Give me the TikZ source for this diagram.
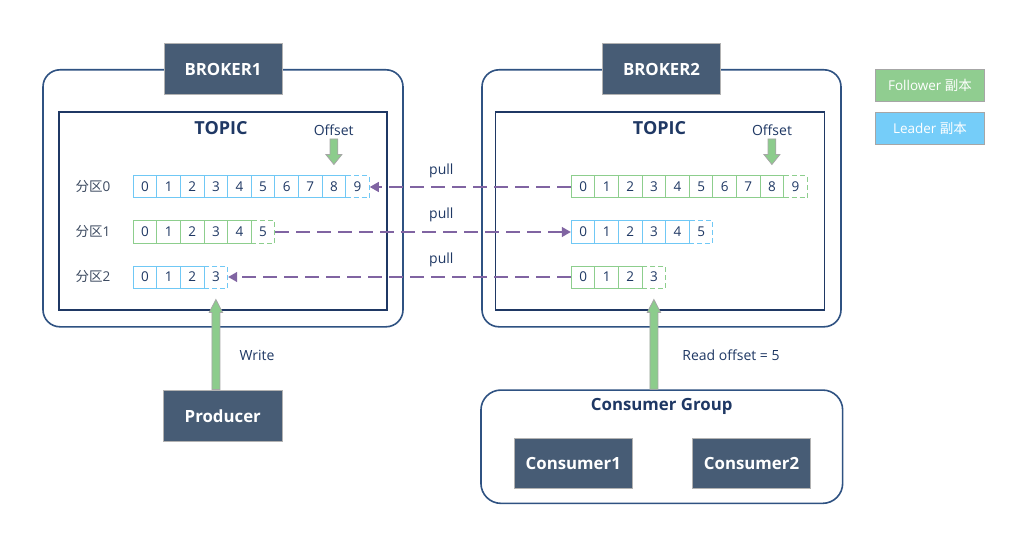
\documentclass[tikz,border=0pt]{standalone}
\usepackage{fontspec}
\setmainfont{Open Sans}
\newfontfamily\cjk{Noto Sans CJK SC}
\usepackage{tikz}
\usetikzlibrary{arrows.meta,calc}

\definecolor{navy}{RGB}{31,56,100}
\definecolor{boxline}{RGB}{47,82,130}
\definecolor{darkfill}{RGB}{71,92,117}
\definecolor{cellgreen}{RGB}{141,206,141}
\definecolor{cellblue}{RGB}{112,200,245}
\definecolor{pullc}{RGB}{128,100,162}
\definecolor{arrowgreen}{RGB}{140,204,140}
\definecolor{leggreen}{RGB}{144,205,144}
\definecolor{legblue}{RGB}{117,205,249}
\definecolor{partc}{RGB}{60,74,96}

\tikzset{
    cell/.style={rectangle, minimum width=23.6pt, minimum height=22pt, inner sep=0pt,
        line width=1pt, text=navy, font=\fontsize{13.5}{15}\selectfont},
    lastcell/.style={dash pattern=on 5pt off 3pt},
    broker/.style={draw=boxline, line width=1.6pt, rounded corners=17pt,
        minimum height=257pt},
    topicbox/.style={draw=navy, line width=1.1pt, minimum width=328pt, minimum height=198pt},
    darkbox/.style={fill=darkfill, draw=gray!60, line width=0.8pt, text=white,
        font=\bfseries\fontsize{16.8}{18}\selectfont, minimum width=118pt, minimum height=51pt},
    titletext/.style={text=navy, font=\bfseries\fontsize{18}{20}\selectfont},
    lbl/.style={text=navy, font=\fontsize{14}{16}\selectfont},
    partlbl/.style={text=partc, font=\fontsize{13.5}{15}\selectfont},
    pullarrow/.style={draw=pullc, line width=1.2pt, dash pattern=on 14pt off 7pt,
        -{Triangle[length=9pt,width=10pt]}},
    fatarrowst/.style={fill=arrowgreen, draw=gray!70, line width=0.8pt},
    legendbox/.style={draw=gray!70, line width=0.8pt, text=white, minimum width=108.6pt,
        minimum height=32pt, font=\fontsize{13.5}{15}\selectfont},
}

% thick arrow: base, tip, half shaft, half head, head length (signed)
\newcommand\fatarrow[5]{%
    \path[fatarrowst] let \p1=(#1), \p2=(#2) in
        ({\x2-#3},\y1) -- ({\x2-#3},{\y2+#5}) -- ({\x2-#4},{\y2+#5}) -- (\x2,\y2)
        -- ({\x2+#4},{\y2+#5}) -- ({\x2+#3},{\y2+#5}) -- ({\x2+#3},\y1) -- cycle;}

\begin{document}
\begin{tikzpicture}[x=1pt, y=-1pt]
    \fill[white] (0,0) rectangle (1024,545);
    \useasboundingbox (0,0) rectangle (1024,545);

    % brokers
    \node [broker, minimum width=360pt] (br1) at (223, 198.3) {};
    \node [broker, minimum width=359pt] (br2) at (661.5, 198.3) {};
    \node [darkbox] (br1lbl) at (br1.north) {BROKER1};
    \node [darkbox] (br2lbl) at (br2.north) {BROKER2};
    \node [topicbox] (tp1) at (223, 211) {};
    \node [topicbox, minimum width=328.6pt] (tp2) at (660, 211) {};
    \node [titletext] (topic1) at (221, 128.5) {TOPIC};
    \node [titletext] (topic2) at (659.5, 128.5) {TOPIC};
    \node [lbl] (off1) at (333.7, 130) {Offset};
    \node [lbl] (off2) at (772, 130) {Offset};

    % partitions
    \node [partlbl] (part0) at (93, 187) {{\cjk 分区}0};
    \node [partlbl] (part1) at (93, 232) {{\cjk 分区}1};
    \node [partlbl] (part2) at (93, 277) {{\cjk 分区}2};

    % cells
    \foreach \br/\pp/\xo/\yo/\n/\col in {1/0/133.3/187/9/cellblue, 1/1/133.3/232/5/cellgreen,
        1/2/133.3/277/3/cellblue, 2/0/571.3/187/9/cellgreen, 2/1/571.3/232/5/cellblue,
        2/2/571.3/277/3/cellgreen} {
        \foreach \i in {0,...,\n} {
            \ifnum\i=\n \def\st{lastcell}\else \def\st{solid}\fi
            \node [cell, draw=\col, \st] (b\br-p\pp-c\i) at ({\xo+23.6*\i+11.8}, \yo) {\i};
        }
    }

    % replication
    \draw [pullarrow] (b2-p0-c0.west) -- (b1-p0-c9.east);
    \draw [pullarrow] (b1-p1-c5.east) -- (b2-p1-c0.west);
    \draw [pullarrow] (b2-p2-c0.west) -- (b1-p2-c3.east);
    \node [lbl] (pull0) at (441.3, 171) {pull};
    \node [lbl] (pull1) at (441.3, 215) {pull};
    \node [lbl] (pull2) at (441.3, 260) {pull};

    % clients
    \node [darkbox, minimum width=119pt, minimum height=51.7pt] (prod) at (222.8, 415.8) {Producer};
    \node [draw=boxline, line width=1.6pt, rounded corners=20pt, minimum width=361.7pt,
        minimum height=113.3pt] (cg) at (661.8, 446.7) {};
    \node [titletext, font=\bfseries\fontsize{16.8}{18}\selectfont] (cgtitle) at (661.7, 406) {Consumer Group};
    \node [darkbox, minimum height=50pt] (con1) at (573.3, 463.3) {Consumer1};
    \node [darkbox, minimum height=50pt] (con2) at (751.5, 463.3) {Consumer2};

    \fatarrow{prod.north}{[yshift=-11pt]b1-p2-c3.south}{4pt}{6.7pt}{-13pt}
    \fatarrow{cg.north}{[yshift=-11pt]b2-p2-c3.south}{4pt}{6.7pt}{-13pt}
    \fatarrow{off1.south}{[yshift=11pt]b1-p0-c8.north}{3.9pt}{8pt}{10pt}
    \fatarrow{off2.south}{[yshift=11pt]b2-p0-c8.north}{3.9pt}{8pt}{10pt}
    \node [lbl] (write) at (257, 355) {Write};
    \node [lbl] (read) at (731, 355) {Read offset = 5};

    % legend
    \node [legendbox, fill=leggreen] (legf) at (930, 85.3) {Follower {\cjk 副本}};
    \node [legendbox, fill=legblue] (legl) at (930, 128.5) {Leader {\cjk 副本}};
\end{tikzpicture}
\end{document}
